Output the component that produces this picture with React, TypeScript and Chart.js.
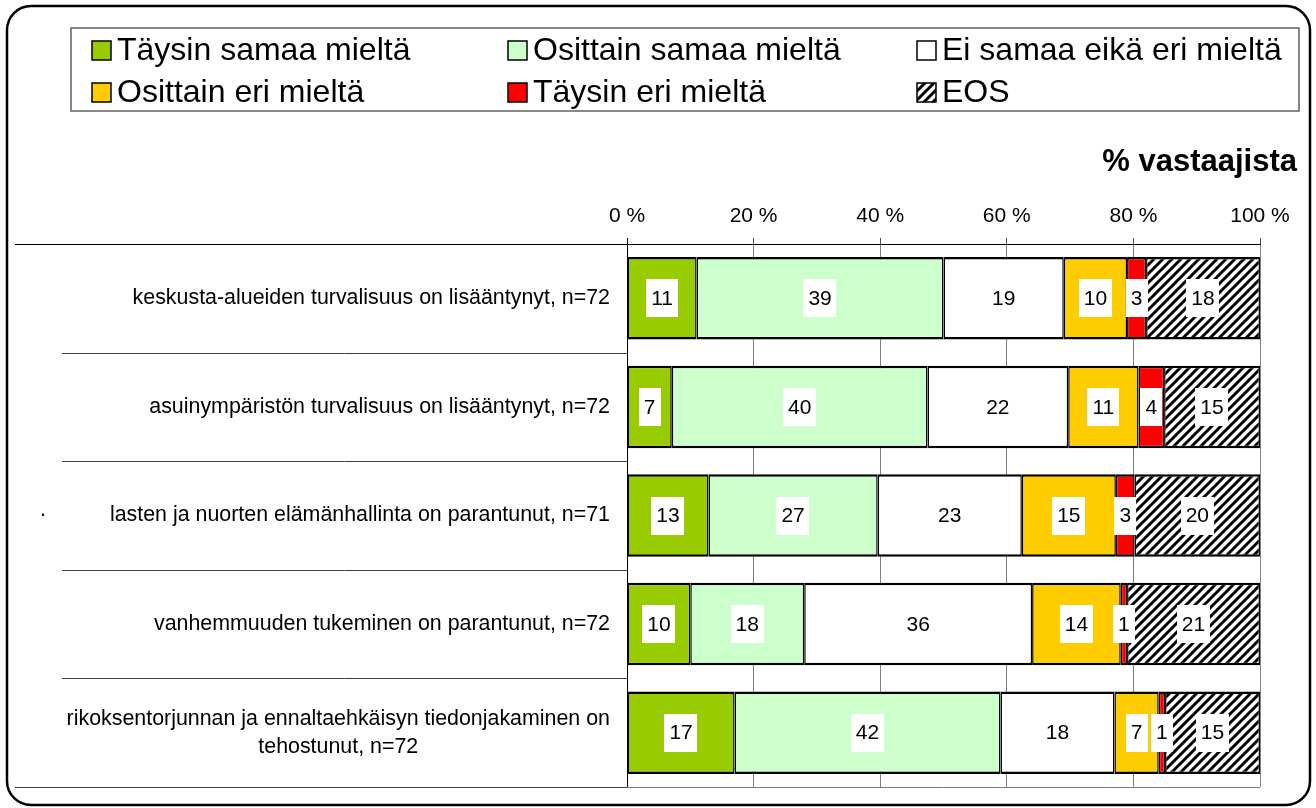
import { useEffect, useRef } from 'react';
import { Chart, registerables } from 'chart.js';

Chart.register(...registerables);

const categories: string[][] = [
  ['keskusta-alueiden turvalisuus on lisääntynyt, n=72'],
  ['asuinympäristön turvalisuus on lisääntynyt, n=72'],
  ['lasten ja nuorten elämänhallinta on parantunut, n=71'],
  ['vanhemmuuden tukeminen on parantunut, n=72'],
  ['rikoksentorjunnan ja ennaltaehkäisyn tiedonjakaminen on', 'tehostunut, n=72'],
];

const seriesNames = [
  'Täysin samaa mieltä',
  'Osittain samaa mieltä',
  'Ei samaa eikä eri mieltä',
  'Osittain eri mieltä',
  'Täysin eri mieltä',
  'EOS',
];

const taysinSamaa = [11, 7, 13, 10, 17];
const osittainSamaa = [39, 40, 27, 18, 42];
const eiSamaaEikaEri = [19, 22, 23, 36, 18];
const osittainEri = [10, 11, 15, 14, 7];
const taysinEri = [3, 4, 3, 1, 1];
const eos = [18, 15, 20, 21, 15];

const xTickValues = [0, 20, 40, 60, 80, 100];
const titleText = '% vastaajista';

const FONT = "'Liberation Sans', Arial, sans-serif";

function makeHatch(): CanvasPattern | string {
  const size = 9;
  const c = document.createElement('canvas');
  c.width = size;
  c.height = size;
  const g = c.getContext('2d');
  if (!g) return '#888';
  g.fillStyle = '#fff';
  g.fillRect(0, 0, size, size);
  g.strokeStyle = '#000';
  g.lineWidth = 3;
  g.beginPath();
  for (const k of [-size, 0, size]) {
    g.moveTo(k - 1, size + 1);
    g.lineTo(k + size + 1, -1);
  }
  g.stroke();
  const p = g.createPattern(c, 'repeat');
  return p || '#888';
}

export default function App() {
  const ref = useRef<HTMLCanvasElement | null>(null);

  useEffect(() => {
    document.body.style.margin = '0';
    document.body.style.overflow = 'hidden';
    const canvas = ref.current;
    if (!canvas) return;

    const hatch = makeHatch();
    const raw = [taysinSamaa, osittainSamaa, eiSamaaEikaEri, osittainEri, taysinEri, eos];
    const colors: any[] = ['#99CC00', '#CCFFCC', '#FFFFFF', '#FFCC00', '#FF0000', hatch];
    const totals = categories.map((_, i) => raw.reduce((s, arr) => s + arr[i], 0));

    const datasets = raw.map((arr, si) => ({
      label: seriesNames[si],
      data: arr.map((v, i) => (v / totals[i]) * 100),
      rawValues: arr,
      backgroundColor: colors[si],
      borderColor: '#000',
      borderWidth: { top: 2.5, bottom: 2.5, left: 1.5, right: 1.5 },
      borderSkipped: false,
      categoryPercentage: 1,
      barPercentage: 0.76,
    }));

    const decor = {
      id: 'decor',
      beforeDraw(chart: any) {
        const ctx = chart.ctx as CanvasRenderingContext2D;
        ctx.save();
        ctx.fillStyle = '#fff';
        ctx.fillRect(0, 0, chart.width, chart.height);
        // outer frame
        ctx.strokeStyle = '#000';
        ctx.lineWidth = 2.5;
        ctx.beginPath();
        (ctx as any).roundRect(7, 6, 1303, 799, 24);
        ctx.stroke();
        // legend box
        ctx.strokeStyle = '#606060';
        ctx.lineWidth = 1.5;
        ctx.strokeRect(71, 28, 1228, 83);
        const cols = [92, 508, 917];
        const rows = [50, 92];
        seriesNames.forEach((name, i) => {
          const cx = cols[i % 3];
          const cy = rows[Math.floor(i / 3)];
          ctx.fillStyle = colors[i];
          ctx.fillRect(cx, cy - 9, 19, 19);
          ctx.strokeStyle = '#000';
          ctx.lineWidth = 1.5;
          ctx.strokeRect(cx, cy - 9, 19, 19);
          ctx.fillStyle = '#000';
          ctx.font = `32px ${FONT}`;
          ctx.textAlign = 'left';
          ctx.textBaseline = 'middle';
          ctx.fillText(name, cx + 25, cy + 1);
        });
        // title
        ctx.font = `bold 31px ${FONT}`;
        ctx.textAlign = 'right';
        ctx.textBaseline = 'middle';
        ctx.fillStyle = '#000';
        ctx.fillText(titleText, 1297, 162);
        ctx.restore();
      },
      afterDatasetsDraw(chart: any) {
        const ctx = chart.ctx as CanvasRenderingContext2D;
        const area = chart.chartArea;
        const yScale = chart.scales.y;
        ctx.save();
        // plot borders
        ctx.lineWidth = 1;
        ctx.strokeStyle = '#808080';
        ctx.beginPath();
        ctx.moveTo(area.left, area.bottom + 0.5);
        ctx.lineTo(area.right, area.bottom + 0.5);
        ctx.stroke();
        ctx.strokeStyle = '#000';
        ctx.beginPath();
        ctx.moveTo(area.left + 0.5, area.top - 6);
        ctx.lineTo(area.left + 0.5, area.bottom);
        ctx.stroke();
        // category separator lines on the left
        const n = categories.length;
        const step = (area.bottom - area.top) / n;
        for (let k = 0; k <= n; k++) {
          const y = Math.round(area.top + k * step) + 0.5;
          const x0 = k === 0 || k === n ? 15 : 62;
          ctx.strokeStyle = k === 0 ? '#000' : '#404040';
          ctx.beginPath();
          ctx.moveTo(x0, y);
          ctx.lineTo(area.left, y);
          ctx.stroke();
        }
        // category labels
        ctx.fillStyle = '#000';
        ctx.font = `21.4px ${FONT}`;
        ctx.textBaseline = 'middle';
        ctx.textAlign = 'center';
        const rightEdge = area.left - 17;
        categories.forEach((lines, i) => {
          const cy = yScale.getPixelForValue(i);
          const widths = lines.map((l) => ctx.measureText(l).width);
          const maxW = Math.max(...widths);
          const cx = rightEdge - maxW / 2;
          const lh = 28;
          lines.forEach((l, j) => {
            ctx.fillText(l, cx, cy + (j - (lines.length - 1) / 2) * lh);
          });
        });
        // stray dot
        ctx.textAlign = 'center';
        ctx.fillText('·', 43, yScale.getPixelForValue(2));
        // data labels
        ctx.font = `21px ${FONT}`;
        chart.data.datasets.forEach((ds: any, di: number) => {
          const meta = chart.getDatasetMeta(di);
          meta.data.forEach((bar: any, i: number) => {
            const txt = String(ds.rawValues[i]);
            const cx = (bar.x + bar.base) / 2;
            const cy = bar.y;
            const w = ctx.measureText(txt).width + 10;
            const h = 38;
            ctx.fillStyle = '#fff';
            ctx.fillRect(Math.round(cx - w / 2), Math.round(cy - h / 2), Math.round(w), h);
            ctx.fillStyle = '#000';
            ctx.textAlign = 'center';
            ctx.textBaseline = 'middle';
            ctx.fillText(txt, cx, cy + 1);
          });
        });
        ctx.restore();
      },
    };

    const chart = new Chart(canvas, {
      type: 'bar',
      data: {
        labels: categories.map((c) => c.join(' ')),
        datasets: datasets as any,
      },
      options: {
        indexAxis: 'y',
        responsive: false,
        animation: false,
        devicePixelRatio: 1,
        layout: { padding: { left: 627, right: 56, top: 204, bottom: 21 } },
        plugins: {
          legend: { display: false },
          tooltip: { enabled: false },
          title: { display: false },
        },
        scales: {
          x: {
            type: 'linear',
            position: 'top',
            stacked: true,
            min: 0,
            max: 100,
            afterBuildTicks: (s: any) => {
              s.ticks = xTickValues.map((v) => ({ value: v }));
            },
            afterFit: (s: any) => {
              s.height = 40;
            },
            ticks: {
              color: '#000',
              font: { size: 21, family: FONT },
              padding: 9,
              maxRotation: 0,
              callback: (v: any) => `${v} %`,
            },
            grid: {
              display: true,
              drawOnChartArea: true,
              color: '#808080',
              tickColor: '#505050',
              tickLength: 6,
              lineWidth: 1,
            },
            border: { display: true, color: '#000', width: 1 },
          },
          y: {
            type: 'category',
            stacked: true,
            display: false,
          },
        },
      },
      plugins: [decor],
    });

    return () => chart.destroy();
  }, []);

  return (
    <div style={{ width: 1316, height: 808, overflow: 'hidden' }}>
      <canvas ref={ref} width={1316} height={808} style={{ display: 'block' }} />
    </div>
  );
}
